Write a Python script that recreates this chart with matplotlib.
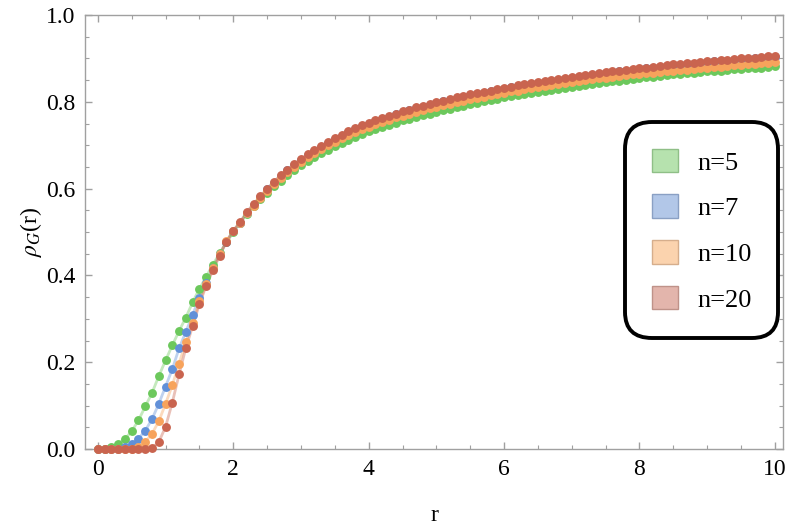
import numpy as np
import matplotlib
matplotlib.use('Agg')
import matplotlib.pyplot as plt
from matplotlib.patches import Patch

plt.rcParams['font.family'] = ['Liberation Serif', 'DejaVu Serif']
plt.rcParams['mathtext.fontset'] = 'stix'

# r grid of the sampled points (step 0.1)
R = np.round(np.arange(101) * 0.1, 1)

LABELS = ['n=5', 'n=7', 'n=10', 'n=20']

RHO_N5 = [0.0, 0.0, 0.004, 0.011, 0.023, 0.041, 0.066, 0.098, 0.129, 0.168,
          0.204, 0.239, 0.272, 0.303, 0.338, 0.369, 0.397, 0.425, 0.451, 0.476,
          0.499, 0.521, 0.541, 0.559, 0.576, 0.591, 0.605, 0.618, 0.631, 0.643,
          0.654, 0.664, 0.673, 0.682, 0.690, 0.698, 0.705, 0.712, 0.719, 0.726,
          0.732, 0.737, 0.742, 0.747, 0.752, 0.757, 0.761, 0.765, 0.769, 0.773,
          0.777, 0.781, 0.784, 0.788, 0.791, 0.795, 0.798, 0.801, 0.804, 0.807,
          0.810, 0.813, 0.815, 0.818, 0.820, 0.823, 0.825, 0.828, 0.830, 0.832,
          0.835, 0.837, 0.839, 0.841, 0.843, 0.845, 0.847, 0.849, 0.851, 0.853,
          0.855, 0.857, 0.858, 0.860, 0.861, 0.863, 0.864, 0.866, 0.867, 0.868,
          0.870, 0.871, 0.872, 0.874, 0.875, 0.876, 0.877, 0.878, 0.879, 0.881,
          0.882]

RHO_N7 = [0.0, 0.0, 0.0, 0.0, 0.004, 0.012, 0.024, 0.042, 0.069, 0.104,
          0.144, 0.184, 0.232, 0.270, 0.309, 0.349, 0.383, 0.417, 0.449, 0.478,
          0.502, 0.521, 0.544, 0.563, 0.580, 0.598, 0.614, 0.629, 0.642, 0.654,
          0.666, 0.677, 0.687, 0.696, 0.705, 0.714, 0.722, 0.730, 0.737, 0.744,
          0.750, 0.756, 0.761, 0.766, 0.771, 0.776, 0.780, 0.785, 0.789, 0.793,
          0.797, 0.801, 0.804, 0.808, 0.811, 0.815, 0.818, 0.821, 0.824, 0.827,
          0.830, 0.833, 0.836, 0.838, 0.841, 0.844, 0.846, 0.849, 0.851, 0.853,
          0.856, 0.858, 0.860, 0.862, 0.864, 0.866, 0.868, 0.870, 0.872, 0.874,
          0.876, 0.877, 0.879, 0.881, 0.882, 0.884, 0.885, 0.887, 0.888, 0.890,
          0.891, 0.893, 0.894, 0.895, 0.897, 0.898, 0.899, 0.900, 0.902, 0.903,
          0.904]

RHO_N10 = [0.0, 0.0, 0.0, 0.0, 0.0, 0.0, 0.005, 0.016, 0.035, 0.064,
           0.104, 0.147, 0.197, 0.247, 0.290, 0.340, 0.380, 0.416, 0.449, 0.479,
           0.503, 0.521, 0.543, 0.561, 0.578, 0.595, 0.611, 0.625, 0.638, 0.650,
           0.661, 0.672, 0.682, 0.691, 0.700, 0.708, 0.716, 0.724, 0.731, 0.737,
           0.743, 0.749, 0.754, 0.759, 0.764, 0.768, 0.773, 0.777, 0.781, 0.785,
           0.789, 0.792, 0.796, 0.799, 0.802, 0.806, 0.809, 0.812, 0.815, 0.818,
           0.821, 0.824, 0.826, 0.829, 0.831, 0.834, 0.837, 0.839, 0.841, 0.843,
           0.846, 0.848, 0.850, 0.852, 0.854, 0.856, 0.857, 0.859, 0.861, 0.863,
           0.864, 0.866, 0.867, 0.869, 0.870, 0.872, 0.873, 0.874, 0.876, 0.877,
           0.878, 0.880, 0.881, 0.882, 0.884, 0.885, 0.886, 0.887, 0.889, 0.890,
           0.891]

RHO_N20 = [0.0, 0.0, 0.0, 0.0, 0.0, 0.0, 0.0, 0.0, 0.002, 0.016,
           0.051, 0.107, 0.172, 0.233, 0.283, 0.334, 0.376, 0.412, 0.445, 0.478,
           0.503, 0.523, 0.546, 0.565, 0.582, 0.600, 0.616, 0.631, 0.644, 0.656,
           0.668, 0.679, 0.689, 0.698, 0.707, 0.716, 0.724, 0.732, 0.739, 0.746,
           0.752, 0.758, 0.763, 0.768, 0.773, 0.778, 0.782, 0.787, 0.791, 0.795,
           0.799, 0.803, 0.806, 0.810, 0.813, 0.817, 0.820, 0.823, 0.826, 0.829,
           0.832, 0.835, 0.838, 0.840, 0.843, 0.846, 0.848, 0.851, 0.853, 0.855,
           0.858, 0.860, 0.862, 0.864, 0.866, 0.868, 0.870, 0.872, 0.874, 0.876,
           0.878, 0.879, 0.881, 0.883, 0.884, 0.886, 0.887, 0.889, 0.890, 0.892,
           0.893, 0.895, 0.896, 0.897, 0.899, 0.900, 0.901, 0.902, 0.904, 0.905,
           0.906]

COLORS = ['#6cc85c', '#6190d8', '#f7a35c', '#c9644f']
FILL = ['#b6e2ae', '#b2c7e8', '#fbd3ae', '#e3b5ac']
EDGE = ['#8fbf87', '#8aa0c4', '#d6ae8c', '#bf9289']


def main():
    fig = plt.figure(figsize=(7.89, 5.27), dpi=100)
    ax = fig.add_axes([0.1077, 0.148, 0.8847, 0.8235])

    series = [RHO_N5, RHO_N7, RHO_N10, RHO_N20]
    for ys, c in zip(series, COLORS):
        ax.plot(R, ys, color=c, lw=2.0, alpha=0.4, zorder=2)
    for ys, c in zip(series, COLORS):
        ax.plot(R, ys, 'o', color=c, ms=6.4, mec='none', zorder=3, clip_on=False)

    ax.set_xlim(-0.19, 10.12)
    ax.set_ylim(0, 1)
    ax.set_xticks([0, 2, 4, 6, 8, 10])
    ax.set_xticks(np.arange(0, 10.01, 0.5), minor=True)
    ax.set_yticks([0.0, 0.2, 0.4, 0.6, 0.8, 1.0])
    ax.set_yticks(np.arange(0, 1.001, 0.05), minor=True)
    ax.set_yticklabels(['0.0', '0.2', '0.4', '0.6', '0.8', '1.0'])

    for s in ax.spines.values():
        s.set_color('#a0a0a0')
        s.set_linewidth(1.0)
    ax.tick_params(which='both', direction='in', top=True, right=True,
                   color='#a0a0a0', labelsize=17, labelcolor='black')
    ax.tick_params(which='major', length=5, width=1.0, pad=7)
    ax.tick_params(which='minor', length=2.8, width=0.8)

    ax.set_xlabel('r', fontsize=17, labelpad=18)
    ax.set_ylabel(r'$\rho_G$(r)', fontsize=17, labelpad=1)

    handles = [Patch(facecolor=f, edgecolor=e, lw=1.0) for f, e in zip(FILL, EDGE)]
    leg = ax.legend(handles, LABELS, loc='upper right', bbox_to_anchor=(0.9935, 0.7525),
                    fontsize=19, handlelength=1.0, handleheight=1.0,
                    labelspacing=0.75, handletextpad=0.75, borderpad=1.0,
                    borderaxespad=0, fancybox=True, framealpha=1)
    frame = leg.get_frame()
    frame.set_edgecolor('black')
    frame.set_linewidth(2.8)
    frame.set_boxstyle('round,pad=0,rounding_size=1.0')

    fig.savefig('out.png', dpi=100)


if __name__ == '__main__':
    main()
